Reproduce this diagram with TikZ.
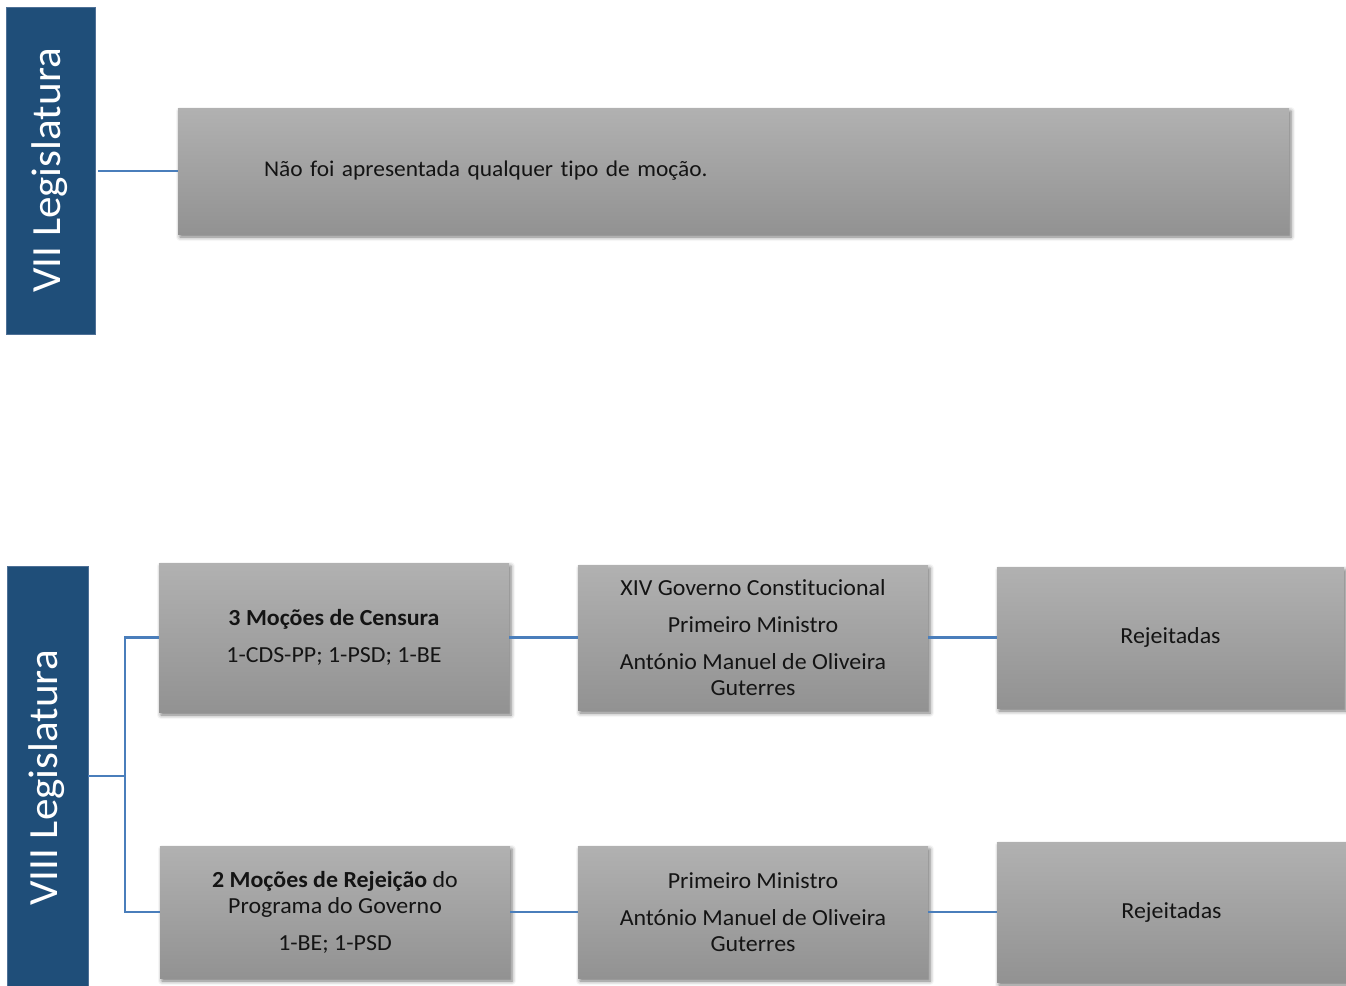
\documentclass[tikz,border=0pt]{standalone}
\usepackage{fontspec}
\setmainfont{Carlito}[Ligatures=NoCommon, FakeStretch=1.04]
\usetikzlibrary{shadows.blur}

\definecolor{barblue}{RGB}{31,78,121}
\definecolor{baredge}{RGB}{78,112,150}
\definecolor{linkblue}{RGB}{74,126,187}
\definecolor{boxtop}{RGB}{177,177,177}
\definecolor{boxbottom}{RGB}{146,146,146}
\definecolor{ink}{RGB}{20,20,20}

\tikzset{
  legbar/.style={draw=baredge, line width=0.8pt, fill=barblue, inner sep=0pt},
  barlabel/.style={text=white, rotate=90, inner sep=0pt,
    font=\fontsize{41.5}{48}\selectfont},
  infobox/.style={top color=boxtop, bottom color=boxbottom, draw=none,
    inner sep=0pt, text=ink, align=center,
    font=\fontsize{23}{26}\selectfont,
    blur shadow={shadow xshift=2pt, shadow yshift=-3pt,
      shadow blur radius=4pt, shadow opacity=55}},
  link/.style={draw=linkblue, line width=2.2pt}
}

\begin{document}
\begin{tikzpicture}[x=1pt, y=-1pt]
  \useasboundingbox (0,0) rectangle (1346,985);
  \clip (0,0) rectangle (1346,985);

  % legislature bars
  \node[legbar, minimum width=89pt, minimum height=327pt] (vii) at (50.5,170.5) {};
  \node[barlabel] (viilabel) at (50,170.5) {VII Legislatura};
  \node[legbar, minimum width=81pt, minimum height=420pt] (viii) at (47.5,776) {};
  \node[barlabel] (viiilabel) at (47,778) {VIII Legislatura};
  \coordinate (viiout) at (98,171);

  % VII
  \node[infobox, minimum width=1111pt, minimum height=126pt, text width=939pt,
        align=left, inner xsep=86pt, font=\fontsize{22.5}{26}\selectfont]
        (none) at (733.5,171)
        {Não foi apresentada qualquer tipo de moção.};

  % VIII, first row
  \node[infobox, minimum width=350pt, minimum height=149pt] (a1) at (334,637.5)
        {\textbf{3 Moções de Censura}\\[11pt]1-CDS-PP; 1-PSD; 1-BE};
  \node[infobox, minimum width=350pt, minimum height=145pt] (b1) at (753,637.5)
        {XIV Governo Constitucional\\[11pt]Primeiro Ministro\\[11pt]António Manuel de Oliveira\\Guterres};
  \node[infobox, minimum width=347pt, minimum height=141pt] (c1) at (1170.5,637.5)
        {Rejeitadas};

  % VIII, second row
  \node[infobox, minimum width=350pt, minimum height=132pt] (a2) at (335,912)
        {\textbf{2 Moções de Rejeição} do\\Programa do Governo\\[11pt]1-BE; 1-PSD};
  \node[infobox, minimum width=350pt, minimum height=132pt] (b2) at (753,912)
        {Primeiro Ministro\\[11pt]António Manuel de Oliveira\\Guterres};
  \node[infobox, minimum width=349pt, minimum height=140pt] (c2) at (1171.5,912)
        {Rejeitadas};

  % connectors
  \coordinate (fork) at (125,776);
  \draw[link] (viiout) -- (none.west);
  \draw[link] (viii.east) -- (fork) |- (a1.west);
  \draw[link] (fork) |- (a2.west);
  \draw[link] (a1.east) -- (b1.west);
  \draw[link] (b1.east) -- (c1.west);
  \draw[link] (a2.east) -- (b2.west);
  \draw[link] (b2.east) -- (c2.west);
\end{tikzpicture}
\end{document}
